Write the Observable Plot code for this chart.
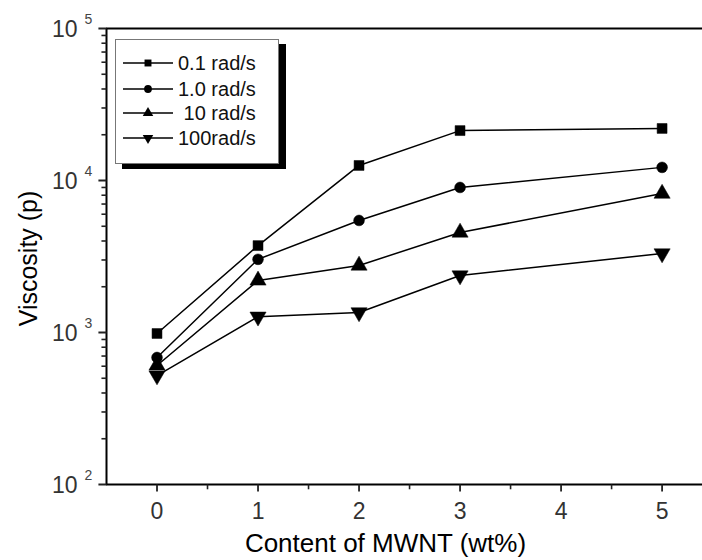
<!DOCTYPE html>
<html>
<head>
<meta charset="utf-8">
<script src="https://cdn.jsdelivr.net/npm/d3@7"></script>
<script src="https://cdn.jsdelivr.net/npm/@observablehq/plot@0.6"></script>
<style>
  html, body { margin: 0; padding: 0; background: #fff; }
  #wrap { position: relative; width: 702px; height: 560px; font-family: "Liberation Sans", Arial, sans-serif; }
  #legend { position: absolute; left: 115px; top: 39px; width: 162px; height: 123px;
            border: 1px solid #777; box-shadow: 7px 5px 0 #000; background: #fff; }
</style>
</head>
<body>
<div id="wrap">
  <div id="chart"></div>
  <div id="legend"></div>
</div>
<script>
// ---- data ----
const contents = [0, 1, 2, 3, 5];                 // wt% MWNT
const seriesNames = ["0.1 rad/s", "1.0 rad/s", "10 rad/s", "100rad/s"];
const legendLabels = ["0.1 rad/s", "1.0 rad/s", " 10 rad/s", "100rad/s"];
const visc01 = [985, 3730, 12560, 21300, 22000];   // 0.1 rad/s
const visc1 = [685, 3030, 5460, 9000, 12200];      // 1.0 rad/s
const visc10 = [607, 2200, 2760, 4550, 8200];      // 10 rad/s
const visc100 = [521, 1270, 1355, 2370, 3310];     // 100 rad/s
const xMajorTicks = [0, 1, 2, 3, 4, 5];
const xMinorTicks = [0.5, 1.5, 2.5, 3.5, 4.5];
const yMajorTicks = [100, 1000, 10000, 100000];
const yMinorTicks = [2,3,4,5,6,7,8,9].flatMap(m => [100, 1000, 10000].map(p => m * p));

const allSeries = [visc01, visc1, visc10, visc100];
const data = allSeries.flatMap((vals, si) =>
  vals.map((v, i) => ({series: seriesNames[si], idx: si, x: contents[i], y: v})));

const symbols = ["square", "circle", "triangle", "triangle"];
const rotations = [0, 0, 0, 180];
const radii = [5.6, 5.4, 6, 6];

const font = "'Liberation Sans', Arial, sans-serif";
const X0 = -0.5, YMIN = 100;

const chart = Plot.plot({
  width: 702,
  height: 560,
  marginLeft: 106,
  marginRight: 0,
  marginTop: 28,
  marginBottom: 76,
  style: {fontFamily: font, background: "white", color: "black", overflow: "visible"},
  x: {domain: [X0, 5.4], axis: null},
  y: {type: "log", domain: [YMIN, 100000], axis: null},
  marks: [
    // frame lines
    Plot.ruleX([X0], {stroke: "black", strokeWidth: 2}),
    Plot.ruleY([YMIN], {stroke: "black", strokeWidth: 2}),
    Plot.ruleY([100000], {stroke: "black", strokeWidth: 2}),
    // x ticks (outward, just below the bottom of the domain)
    Plot.link(xMajorTicks, {x1: d => d, x2: d => d, y1: YMIN, y2: YMIN * 0.9, stroke: "#222", strokeWidth: 1.8}),
    Plot.link(xMinorTicks, {x1: d => d, x2: d => d, y1: YMIN, y2: YMIN * 0.93, stroke: "#222", strokeWidth: 1.6}),
    // y ticks (outward, just left of the domain)
    Plot.link(yMajorTicks, {x1: X0, x2: X0 - 0.08, y1: d => d, y2: d => d, stroke: "#222", strokeWidth: 2}),
    Plot.link(yMinorTicks, {x1: X0, x2: X0 - 0.05, y1: d => d, y2: d => d, stroke: "#222", strokeWidth: 1.6}),
    // tick labels
    Plot.text(xMajorTicks, {x: d => d, y: YMIN, text: d => String(d), dy: 27, fontSize: 23, fill: "#333"}),
    Plot.text(yMajorTicks, {y: d => d, frameAnchor: "left", text: () => "10", textAnchor: "end",
                            dx: -29, dy: 1, fontSize: 23, fill: "#333"}),
    Plot.text(yMajorTicks, {y: d => d, frameAnchor: "left", text: d => String(Math.round(Math.log10(d))),
                            textAnchor: "start", dx: -22, dy: -9, fontSize: 14, fill: "#444"}),
    // axis titles
    Plot.text(["Content of MWNT (wt%)"], {frameAnchor: "bottom", text: d => d, textAnchor: "middle",
                            dx: -19, dy: 67, fontSize: 26, fill: "black"}),
    Plot.text(["Viscosity (p)"], {frameAnchor: "left", text: d => d, textAnchor: "middle", rotate: -90,
                            dx: -78, dy: 2, fontSize: 25, fill: "black"}),
    // data
    Plot.line(data, {x: "x", y: "y", z: "series", stroke: "black", strokeWidth: 1.5}),
    ...[0, 1, 2, 3].map(si =>
      Plot.dot(data.filter(d => d.idx === si), {x: "x", y: "y", symbol: symbols[si], r: radii[si],
                 rotate: rotations[si], fill: "black", stroke: "black", strokeWidth: 0.5}))
  ]
});
document.getElementById("chart").appendChild(chart);

// ---- legend ----
const leg = d3.select("#legend").append("svg").attr("width", 162).attr("height", 123);
const rowY = [23, 49, 73, 98];
legendLabels.forEach((lab, i) => {
  const g = leg.append("g").attr("transform", `translate(0,${rowY[i]})`);
  g.append("line").attr("x1", 7).attr("x2", 57).attr("y1", 0).attr("y2", 0)
    .attr("stroke", "black").attr("stroke-width", 1.5);
  const type = [d3.symbolSquare, d3.symbolCircle, d3.symbolTriangle, d3.symbolTriangle][i];
  g.append("path").attr("d", d3.symbol(type, 48)())
    .attr("transform", `translate(32,0) rotate(${rotations[i]})`).attr("fill", "black");
  g.append("text").attr("x", 62).attr("y", 0).attr("dy", "0.36em")
    .attr("font-size", 20).attr("font-family", font).style("white-space", "pre")
    .attr("fill", "#111").text(lab);
});
</script>
</body>
</html>
